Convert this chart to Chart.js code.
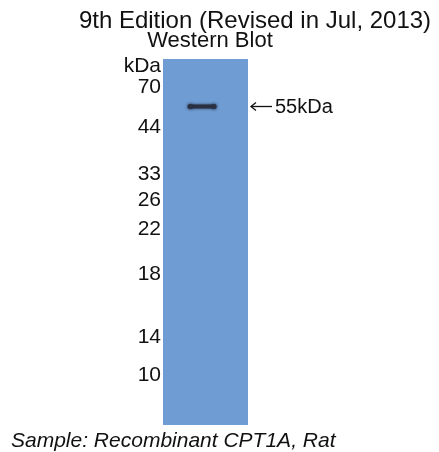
<!DOCTYPE html>
<html>
<head>
<meta charset="utf-8">
<script src="https://cdn.jsdelivr.net/npm/chart.js@4"></script>
<style>
  html,body{margin:0;padding:0;background:#fff;}
  #wrap{position:relative;width:439px;height:452px;overflow:hidden;font-family:"Liberation Sans",Arial,sans-serif;color:#111;}
  canvas{position:absolute;left:0;top:0;}
  .t{position:absolute;white-space:nowrap;line-height:1;}
  #title{left:255px;top:8px;font-size:24px;transform:translateX(-50%);}
  #sub{left:210px;top:29px;font-size:22px;transform:translateX(-50%);}
  #cap{left:11px;top:429px;font-size:21px;font-style:italic;}
</style>
</head>
<body>
<div id="wrap">
  <canvas id="c" width="439" height="452"></canvas>
  <div class="t" id="title">9th Edition (Revised in Jul, 2013)</div>
  <div class="t" id="sub">Western Blot</div>
  <div class="t" id="cap">Sample: Recombinant CPT1A, Rat</div>
</div>
<script>
// ---- data ----
const markerLabels = ["kDa", "70", "44", "33", "26", "22", "18", "14", "10"];
const markerMigration = [7, 28, 68, 115, 141, 170, 215, 278, 316]; // distance from top of blot
const bandLabel = "55kDa";
const bandMigration = [47.5];
const laneStart = 0.32;   // fraction of lane width
const laneEnd = 0.60;
const blotLength = 366;

const blotBg = {
  id: 'blotBg',
  beforeDraw(chart) {
    const {ctx, chartArea: a} = chart;
    ctx.save();
    ctx.fillStyle = '#6f9cd2';
    ctx.fillRect(a.left, a.top, a.right - a.left, a.bottom - a.top);
    ctx.restore();
  },
  beforeDatasetsDraw(chart) {
    chart.ctx.save();
    chart.ctx.shadowColor = 'rgba(30,40,60,0.8)';
    chart.ctx.shadowBlur = 3;
  },
  afterDatasetsDraw(chart) {
    chart.ctx.restore();
    const {ctx, chartArea: a, scales} = chart;
    const y = scales.y.getPixelForValue(bandMigration[0]);
    const x0 = a.right + 3;
    ctx.save();
    ctx.strokeStyle = '#111';
    ctx.lineWidth = 1.3;
    ctx.beginPath();
    ctx.moveTo(x0, y);
    ctx.lineTo(x0 + 21, y);
    ctx.stroke();
    ctx.beginPath();
    ctx.moveTo(x0 + 5, y - 4);
    ctx.lineTo(x0, y);
    ctx.lineTo(x0 + 5, y + 4);
    ctx.stroke();
    ctx.fillStyle = '#111';
    ctx.font = '20px "Liberation Sans", Arial, sans-serif';
    ctx.textBaseline = 'middle';
    ctx.fillText(bandLabel, x0 + 24, y + 1);
    ctx.restore();
  }
};

new Chart(document.getElementById('c'), {
  type: 'line',
  data: {
    datasets: [{
      data: [{x: laneStart, y: bandMigration[0]}, {x: laneEnd, y: bandMigration[0]}],
      borderColor: '#2a3142',
      backgroundColor: '#2a3142',
      borderWidth: 4,
      borderCapStyle: 'round',
      pointRadius: 2.6,
      pointBorderWidth: 0,
      fill: false
    }]
  },
  plugins: [blotBg],
  options: {
    responsive: false,
    animation: false,
    events: [],
    layout: {padding: {left: 103, right: 191, top: 59, bottom: 27}},
    plugins: {legend: {display: false}, tooltip: {enabled: false}, title: {display: false}},
    scales: {
      x: {type: 'linear', min: 0, max: 1, display: false},
      y: {
        type: 'linear', min: 0, max: blotLength, reverse: true,
        grid: {display: false, drawTicks: false},
        border: {display: false},
        afterFit(scale) { scale.width = 60; },
        afterBuildTicks(scale) { scale.ticks = markerMigration.map(v => ({value: v})); },
        ticks: {
          autoSkip: false,
          padding: 2,
          color: '#111',
          font: {family: '"Liberation Sans", Arial, sans-serif', size: 21},
          callback(value) {
            const i = markerMigration.indexOf(value);
            return i >= 0 ? markerLabels[i] : '';
          }
        }
      }
    }
  }
});
</script>
</body>
</html>
